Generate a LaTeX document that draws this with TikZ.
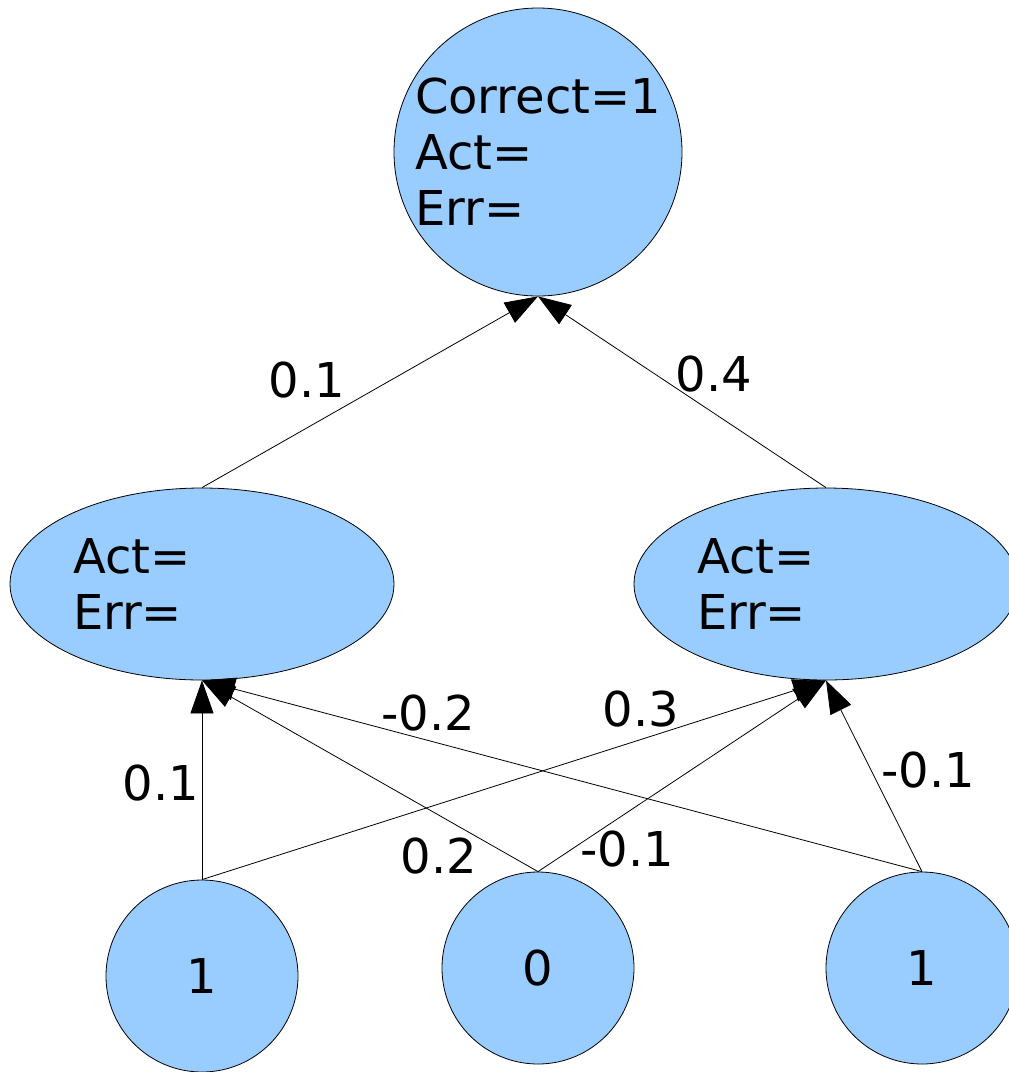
\documentclass[tikz,border=0pt]{standalone}
\usepackage{fontspec}
\setmainfont{DejaVu Sans}
\usetikzlibrary{arrows.meta,shapes.geometric}
\definecolor{nodeblue}{RGB}{153,204,255}
\begin{document}
\begin{tikzpicture}[x=1pt,y=-1pt,
  every node/.style={font=\fontsize{48}{56}\selectfont},
  neuron/.style={circle,draw=black,line width=0.8pt,fill=nodeblue,inner sep=0pt},
  hidden/.style={ellipse,draw=black,line width=0.8pt,fill=nodeblue,inner sep=0pt,
    minimum width=384pt,minimum height=192pt,text width=258pt,align=left},
  conn/.style={line width=0.8pt,-{Triangle[length=33pt,width=23pt]}},
  wlabel/.style={anchor=base,inner sep=0pt}]
\clip (0,0) rectangle (1009,1072);
\node[neuron,minimum size=288pt,align=left] (out) at (538,152) {Correct=1\\Act=\\Err=};
\node[hidden] (h1) at (202,584) {Act=\\Err=};
\node[hidden] (h2) at (826,584) {Act=\\Err=};
\node[neuron,minimum size=192pt] (i1) at (202,976) {1};
\node[neuron,minimum size=192pt] (i2) at (538,968) {0};
\node[neuron,minimum size=192pt] (i3) at (922,968) {1};
\draw[conn] (h1.north) -- (out.south);
\draw[conn] (h2.north) -- (out.south);
\draw[conn] (i1.north) -- (h1.south);
\draw[conn] (i1.north) -- (h2.south);
\draw[conn] (i2.north) -- (h1.south);
\draw[conn] (i2.north) -- (h2.south);
\draw[conn] (i3.north) -- (h1.south);
\draw[conn] (i3.north) -- (h2.south);
\node[wlabel] (w1) at (307,397) {0.1};
\node[wlabel] (w2) at (714,391) {0.4};
\node[wlabel] (w3) at (428,730) {-0.2};
\node[wlabel] (w4) at (641,726) {0.3};
\node[wlabel] (w5) at (161,800) {0.1};
\node[wlabel] (w6) at (439,873) {0.2};
\node[wlabel] (w7) at (627,866) {-0.1};
\node[wlabel] (w8) at (928,787) {-0.1};
\end{tikzpicture}
\end{document}
